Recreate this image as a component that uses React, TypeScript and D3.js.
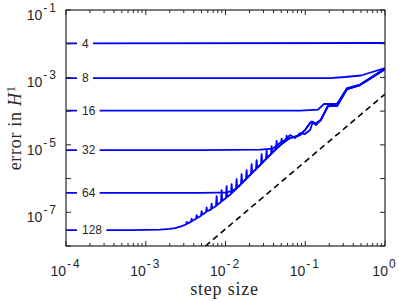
import { useEffect, useRef } from 'react';
import * as d3 from 'd3';

type Pt = [number, number];

// step size vs error in H1, one curve per mesh size
const meshLabels = ['4', '8', '16', '32', '64', '128'];

const err4: Pt[] = [[1e-4, 1.03e-2], [1, 1.05e-2]];

const err8: Pt[] = [
  [1e-4, 9.6e-4], [2.04e-1, 9.6e-4], [3.15e-1, 1.03e-3], [5.0e-1, 1.14e-3], [1, 1.9e-3],
];

const err16: Pt[] = [
  [1e-4, 1.03e-4], [8.59e-2, 1.04e-4], [1.445e-1, 1.11e-4], [1.72e-1, 1.63e-4],
  [2.5e-1, 1.63e-4], [3.34e-1, 4.84e-4], [4.86e-1, 6.15e-4], [1, 1.84e-3],
];

const err32: Pt[] = [
  [1e-4, 7.01e-6], [4.79e-3, 7.01e-6], [2.71e-2, 7.26e-6], [3.94e-2, 7.76e-6],
  [4.82e-2, 1.13e-5], [5.57e-2, 1.39e-5], [6.44e-2, 1.95e-5], [7.44e-2, 1.59e-5],
  [8.59e-2, 2.24e-5], [9.93e-2, 2.09e-5], [1.15e-1, 2.75e-5], [1.25e-1, 4.91e-5],
  [1.36e-1, 3.87e-5], [1.563e-1, 5.44e-5], [1.928e-1, 1.42e-4], [2.5e-1, 1.42e-4],
  [3.34e-1, 4.53e-4], [4.86e-1, 5.94e-4], [1, 1.77e-3],
];

const err64: Pt[] = [
  [1e-4, 3.79e-7], [4.79e-3, 3.79e-7], [8.05e-3, 3.85e-7], [1.015e-2, 3.85e-7],
  [1.172e-2, 4.26e-7], [1.354e-2, 5.0e-7], [1.564e-2, 6.87e-7], [2.088e-2, 1.361e-6],
  [2.787e-2, 2.69e-6], [3.72e-2, 5.33e-6], [4.966e-2, 1.021e-5], [6.44e-2, 1.59e-5],
  [8.59e-2, 1.95e-5], [9.93e-2, 2.75e-5], [1.15e-1, 4.43e-5], [1.205e-1, 4.84e-5],
  [1.324e-1, 4.14e-5], [1.563e-1, 5.44e-5], [1.928e-1, 1.42e-4], [2.5e-1, 1.42e-4],
  [3.34e-1, 4.53e-4], [4.86e-1, 5.94e-4], [1, 1.77e-3],
];

const err128: Pt[] = [
  [1e-4, 2.96e-8], [6.35e-4, 2.96e-8], [1.51e-3, 3.07e-8], [2.0e-3, 3.2e-8], [2.33e-3, 3.4e-8],
  [2.77e-3, 3.8e-8],
  [3.2e-3, 4.35e-8], [3.26e-3, 5.2e-8], [3.31e-3, 4.6e-8],
  [3.69e-3, 5.2e-8], [3.76e-3, 6.5e-8], [3.82e-3, 5.5e-8],
  [4.27e-3, 6.4e-8], [4.35e-3, 8.2e-8], [4.42e-3, 6.8e-8],
  [4.93e-3, 7.9e-8], [5.02e-3, 1.08e-7], [5.1e-3, 8.5e-8],
  [5.69e-3, 1.0e-7], [5.8e-3, 1.4e-7], [5.89e-3, 1.08e-7],
  [6.58e-3, 1.2e-7], [6.7e-3, 1.8e-7], [6.81e-3, 1.3e-7],
  [7.6e-3, 1.528e-7], [7.74e-3, 3.03e-7], [7.87e-3, 1.65e-7],
  [8.78e-3, 2.009e-7], [8.94e-3, 4.56e-7], [9.09e-3, 2.17e-7],
  [1.015e-2, 2.64e-7], [1.033e-2, 5.99e-7], [1.05e-2, 2.85e-7],
  [1.172e-2, 3.47e-7], [1.193e-2, 6.87e-7], [1.213e-2, 3.75e-7],
  [1.354e-2, 4.88e-7], [1.378e-2, 9.66e-7], [1.401e-2, 5.27e-7],
  [1.564e-2, 6.87e-7], [1.592e-2, 1.36e-6], [1.619e-2, 7.42e-7],
  [1.807e-2, 9.66e-7], [1.84e-2, 1.79e-6], [1.87e-2, 1.043e-6],
  [2.088e-2, 1.361e-6], [2.126e-2, 2.69e-6], [2.161e-2, 1.47e-6],
  [2.412e-2, 1.914e-6], [2.455e-2, 3.54e-6], [2.496e-2, 2.07e-6],
  [2.787e-2, 2.69e-6], [2.837e-2, 5.33e-6], [2.885e-2, 2.91e-6],
  [3.22e-2, 3.79e-6], [3.278e-2, 7.01e-6], [3.333e-2, 4.09e-6],
  [3.72e-2, 5.33e-6], [3.787e-2, 9.22e-6], [3.85e-2, 5.76e-6],
  [4.298e-2, 7.5e-6], [4.375e-2, 1.3e-5], [4.448e-2, 8.1e-6],
  [4.966e-2, 1.021e-5], [5.055e-2, 1.54e-5], [5.14e-2, 1.1e-5],
  [5.737e-2, 1.343e-5], [5.84e-2, 1.89e-5], [5.938e-2, 1.45e-5],
  [6.44e-2, 1.59e-5], [7.44e-2, 1.76e-5], [8.59e-2, 1.95e-5], [9.93e-2, 2.75e-5],
  [1.15e-1, 4.43e-5], [1.205e-1, 4.84e-5], [1.324e-1, 4.14e-5], [1.563e-1, 5.44e-5],
  [1.928e-1, 1.42e-4], [2.5e-1, 1.42e-4], [3.34e-1, 4.53e-4], [4.86e-1, 5.94e-4], [1, 1.77e-3],
];

// dashed reference slope
const refLine: Pt[] = [[5.6e-3, 1e-8], [1, 3.2e-4]];

const xTickExp = [-4, -3, -2, -1, 0];
const yTickExp = [-1, -3, -5, -7];

function App() {
  const svgRef = useRef<SVGSVGElement>(null);

  useEffect(() => {
    const svg = d3.select(svgRef.current);
    svg.selectAll('*').remove();

    const left = 66, right = 385, top = 10, bottom = 246;
    const axisColor = '#262626';

    const x = d3.scaleLog().domain([1e-4, 1]).range([left, right]);
    const y = d3.scaleLog().domain([1e-8, 1e-1]).range([bottom, top]);

    const line = d3.line<Pt>().x(d => x(d[0])).y(d => y(d[1]));

    svg.append('clipPath').attr('id', 'plotclip')
      .append('rect')
      .attr('x', left).attr('y', top)
      .attr('width', right - left).attr('height', bottom - top);

    const plot = svg.append('g').attr('clip-path', 'url(#plotclip)');

    plot.append('path')
      .datum(refLine)
      .attr('d', line)
      .attr('fill', 'none')
      .attr('stroke', '#000')
      .attr('stroke-width', 1.6)
      .attr('stroke-dasharray', '6,4');

    const series = [err4, err8, err16, err32, err64, err128];
    series.forEach(s => {
      plot.append('path')
        .datum(s)
        .attr('d', line)
        .attr('fill', 'none')
        .attr('stroke', '#0000ff')
        .attr('stroke-width', 1.8)
        .attr('stroke-linejoin', 'round');
    });

    // mesh labels sitting on the plateaus
    series.forEach((s, i) => {
      const g = svg.append('g');
      const t = g.append('text')
        .attr('x', 82)
        .attr('y', y(s[0][1]))
        .attr('dy', '0.36em')
        .attr('font-family', '"Liberation Sans", Arial, sans-serif')
        .attr('font-size', 12)
        .attr('fill', axisColor)
        .text(meshLabels[i]);
      const bb = (t.node() as SVGTextElement).getBBox();
      g.insert('rect', 'text')
        .attr('x', bb.x - 5)
        .attr('y', bb.y)
        .attr('width', bb.width + 9)
        .attr('height', bb.height)
        .attr('fill', 'white');
    });

    // box
    svg.append('rect')
      .attr('x', left).attr('y', top)
      .attr('width', right - left).attr('height', bottom - top)
      .attr('fill', 'none')
      .attr('stroke', axisColor)
      .attr('stroke-width', 1.2);

    // x ticks (major + minor), bottom and top
    const xt = x.ticks();
    xt.forEach(v => {
      const major = Math.abs(Math.log10(v) - Math.round(Math.log10(v))) < 1e-9;
      const len = major ? 5 : 3;
      const px = x(v);
      svg.append('line').attr('x1', px).attr('x2', px).attr('y1', bottom).attr('y2', bottom - len)
        .attr('stroke', axisColor).attr('stroke-width', 1);
      svg.append('line').attr('x1', px).attr('x2', px).attr('y1', top).attr('y2', top + len)
        .attr('stroke', axisColor).attr('stroke-width', 1);
    });

    // y ticks at each decade, left and right
    d3.range(-8, 0).forEach(e => {
      const py = y(Math.pow(10, e));
      svg.append('line').attr('x1', left).attr('x2', left + 5).attr('y1', py).attr('y2', py)
        .attr('stroke', axisColor).attr('stroke-width', 1);
      svg.append('line').attr('x1', right).attr('x2', right - 5).attr('y1', py).attr('y2', py)
        .attr('stroke', axisColor).attr('stroke-width', 1);
    });

    const tickFont = '"Liberation Sans", Arial, Helvetica, sans-serif';

    const tickLabel = (t: d3.Selection<SVGTextElement, unknown, null, undefined>, e: number) => {
      t.append('tspan').text('10');
      t.append('tspan')
        .attr('dy', -8)
        .attr('dx', 1)
        .attr('font-size', 12)
        .attr('letter-spacing', 2)
        .text(String(e));
    };

    xTickExp.forEach(e => {
      const t = svg.append('text')
        .attr('x', x(Math.pow(10, e)))
        .attr('y', 276)
        .attr('text-anchor', 'middle')
        .attr('font-family', tickFont)
        .attr('font-size', 14)
        .attr('fill', axisColor);
      tickLabel(t, e);
    });

    yTickExp.forEach(e => {
      const t = svg.append('text')
        .attr('x', 58)
        .attr('y', y(Math.pow(10, e)) + 10)
        .attr('text-anchor', 'end')
        .attr('font-family', tickFont)
        .attr('font-size', 14)
        .attr('fill', axisColor);
      tickLabel(t, e);
    });

    const labelFont = '"Liberation Serif", "Times New Roman", serif';

    svg.append('text')
      .attr('x', (left + right) / 2 - 1)
      .attr('y', 295)
      .attr('text-anchor', 'middle')
      .attr('font-family', labelFont)
      .attr('font-size', 18)
      .attr('letter-spacing', 0.8)
      .attr('fill', axisColor)
      .text('step size');

    const yl = svg.append('text')
      .attr('transform', `translate(21,${(top + bottom) / 2}) rotate(-90)`)
      .attr('text-anchor', 'middle')
      .attr('font-family', labelFont)
      .attr('font-size', 18)
      .attr('letter-spacing', 0.7)
      .attr('fill', axisColor);
    yl.append('tspan').text('error in ');
    yl.append('tspan').attr('font-style', 'italic').text('H');
    yl.append('tspan').attr('dy', -6).attr('font-size', 12).text('1');
  }, []);

  return (
    <svg
      ref={svgRef}
      width={399}
      height={302}
      style={{ position: 'absolute', left: 0, top: 0, background: 'white' }}
    />
  );
}

export default App;
